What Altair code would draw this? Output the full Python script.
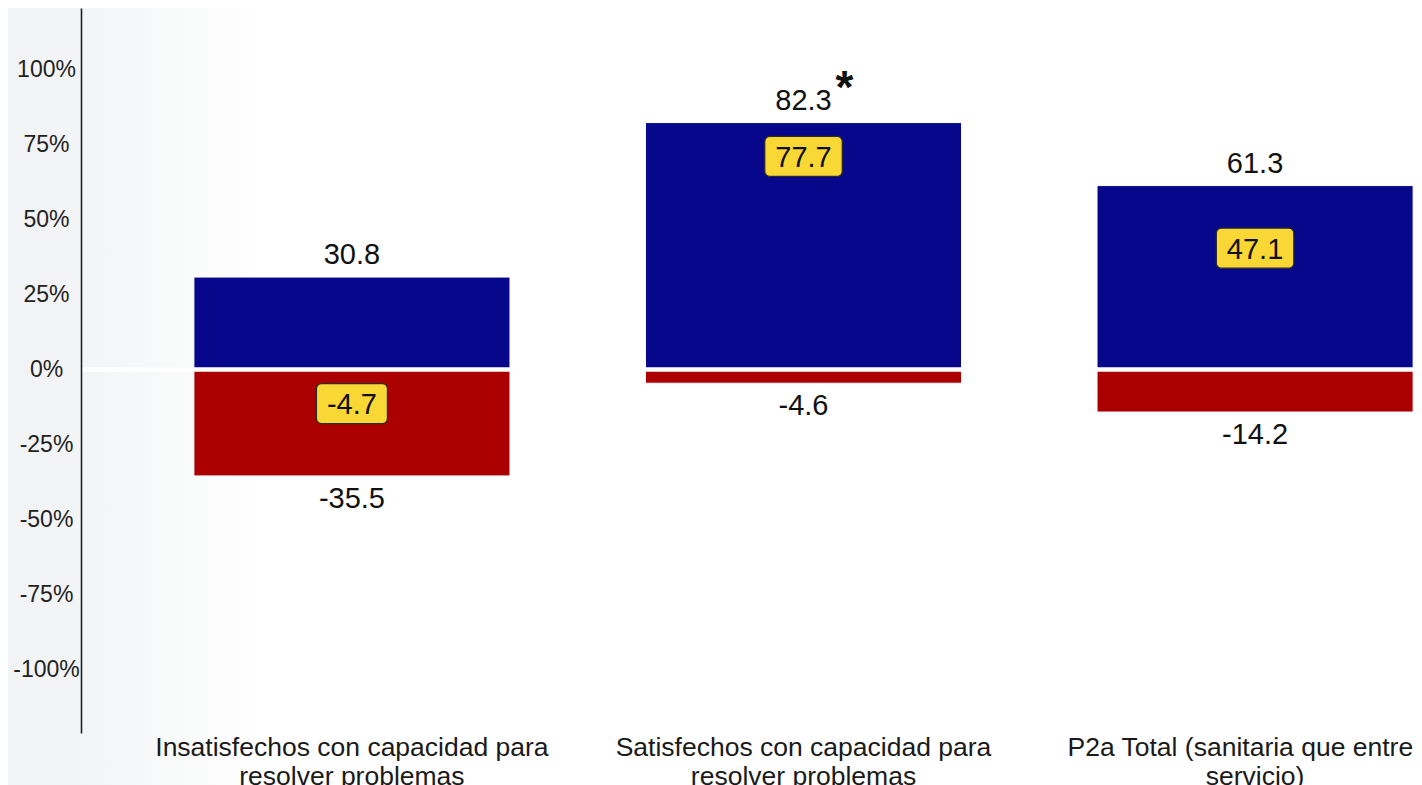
import altair as alt
import pandas as pd

# ---- data ----
categories = [
    "Insatisfechos con capacidad para|resolver problemas",
    "Satisfechos con capacidad para|resolver problemas",
    "P2a Total (sanitaria que entrega|servicio)",
]
positive = [30.8, 82.3, 61.3]
negative = [-35.5, -4.6, -14.2]
net = [-4.7, 77.7, 47.1]
significant = [False, True, False]
y_ticks = [-100, -75, -50, -25, 0, 25, 50, 75, 100]

# ---- styles ----
FONT = "Liberation Sans"
BLUE = "#07078B"
RED = "#AB0000"
YELLOW = "#F9D835"
VAL_FS = 29
CHAR_W = {"-": 0.333, ".": 0.278}

PLOT_W = 1333      # visible plot width (svg fits the window)
BAND_RANGE = 1445  # x scale range; the last band runs to the window edge
PLOT_H = 725


def text_width(s, fs):
    return fs * sum(CHAR_W.get(c, 0.556) for c in s)


bars_df = pd.DataFrame(
    {
        "cat": categories * 2,
        "value": positive + negative,
        "kind": ["pos"] * len(categories) + ["neg"] * len(categories),
    }
)
pos_df = pd.DataFrame({"cat": categories, "value": positive,
                       "label": [f"{v:.1f}" for v in positive],
                       "sig": significant})
neg_df = pd.DataFrame({"cat": categories, "value": negative,
                       "label": [f"{v:.1f}" for v in negative]})
net_df = pd.DataFrame({"cat": categories, "value": net,
                       "label": [f"{v:.1f}" for v in net]})

x_scale = alt.Scale(paddingInner=0.3, paddingOuter=0.25, range=[0, BAND_RANGE])
x_enc = alt.X(
    "cat:N",
    sort=categories,
    scale=x_scale,
    axis=alt.Axis(
        title=None,
        domain=False,
        ticks=False,
        tickSize=0,
        labelAngle=0,
        labelExpr="split(datum.value, '|')",
        labelFont=FONT,
        labelFontSize=26.5,
        labelColor="#1a1a1a",
        labelLimit=1000,
        labelLineHeight=29,
        labelPadding=1,
        labelBaseline="top",
        labelOverlap=False,
        zindex=1,
    ),
)
y_scale = alt.Scale(domain=[-121.2, 120.5], nice=False, zero=False)
y_enc = alt.Y(
    "value:Q",
    scale=y_scale,
    axis=alt.Axis(
        title=None,
        values=y_ticks,
        grid=False,
        ticks=False,
        tickSize=0,
        labelExpr="datum.value + '%'",
        labelAlign="center",
        labelPadding=35,
        labelFont=FONT,
        labelFontSize=23,
        labelColor="#222222",
        domainColor="#222222",
        domainWidth=1.6,
        zindex=1,
    ),
)

bg = alt.Chart(pd.DataFrame({"a": [0]})).mark_rect(
    fill=alt.Gradient(
        gradient="linear",
        x1=0, x2=1, y1=0, y2=0,
        stops=[
            alt.GradientStop(color="#f1f2f4", offset=0),
            alt.GradientStop(color="#f5f6f7", offset=0.45),
            alt.GradientStop(color="#ffffff", offset=1),
        ],
    ),
    clip=False,
).encode(x=alt.value(-81), x2=alt.value(180), y=alt.value(-10), y2=alt.value(800))

bars = alt.Chart(bars_df).mark_bar(stroke="white", strokeWidth=1).encode(
    x=x_enc,
    y=y_enc,
    color=alt.Color("kind:N", scale=alt.Scale(domain=["pos", "neg"], range=[BLUE, RED]), legend=None),
)

zero = alt.Chart(pd.DataFrame({"value": [0]})).mark_rule(color="white", strokeWidth=4.5).encode(
    y=alt.Y("value:Q", scale=y_scale)
)

xs = alt.X("cat:N", sort=categories, scale=x_scale)

pos_text = alt.Chart(pos_df).mark_text(
    font=FONT, fontSize=VAL_FS, color="#111111", baseline="alphabetic", dy=-13
).encode(x=xs, y=alt.Y("value:Q", scale=y_scale), text="label:N")

neg_text = alt.Chart(neg_df).mark_text(
    font=FONT, fontSize=VAL_FS, color="#111111", baseline="alphabetic", dy=32
).encode(x=xs, y=alt.Y("value:Q", scale=y_scale), text="label:N")

star = alt.Chart(pos_df).transform_filter("datum.sig").mark_text(
    font=FONT, fontSize=46, fontWeight="bold", color="#111111",
    baseline="alphabetic", dx=41, dy=-20,
).encode(x=xs, y=alt.Y("value:Q", scale=y_scale), text=alt.value("*"))

boxes = []
for c, lab in zip(categories, net_df["label"]):
    w = text_width(lab, VAL_FS) + 21
    boxes.append(
        alt.Chart(net_df).transform_filter(alt.datum.cat == c).mark_bar(
            width=w, fill=YELLOW, stroke="#2a2a2a", strokeWidth=1.2,
            cornerRadius=5, y2Offset=40,
        ).encode(
            x=xs,
            y=alt.Y("value:Q", scale=y_scale),
            y2=alt.Y2("value:Q"),
        )
    )

net_text = alt.Chart(net_df).mark_text(
    font=FONT, fontSize=VAL_FS, color="#111111", baseline="alphabetic", dy=30.5
).encode(x=xs, y=alt.Y("value:Q", scale=y_scale), text="label:N")

chart = alt.layer(
    bg, bars, zero, pos_text, neg_text, star, *boxes, net_text
).properties(
    width=PLOT_W,
    height=PLOT_H,
    padding={"left": 73, "top": 0, "right": 0, "bottom": 52},
    autosize=alt.AutoSizeParams(type="none"),
    background="white",
).configure_view(stroke=None)

chart.save("out.html", embed_options={"renderer": "svg", "actions": False})
